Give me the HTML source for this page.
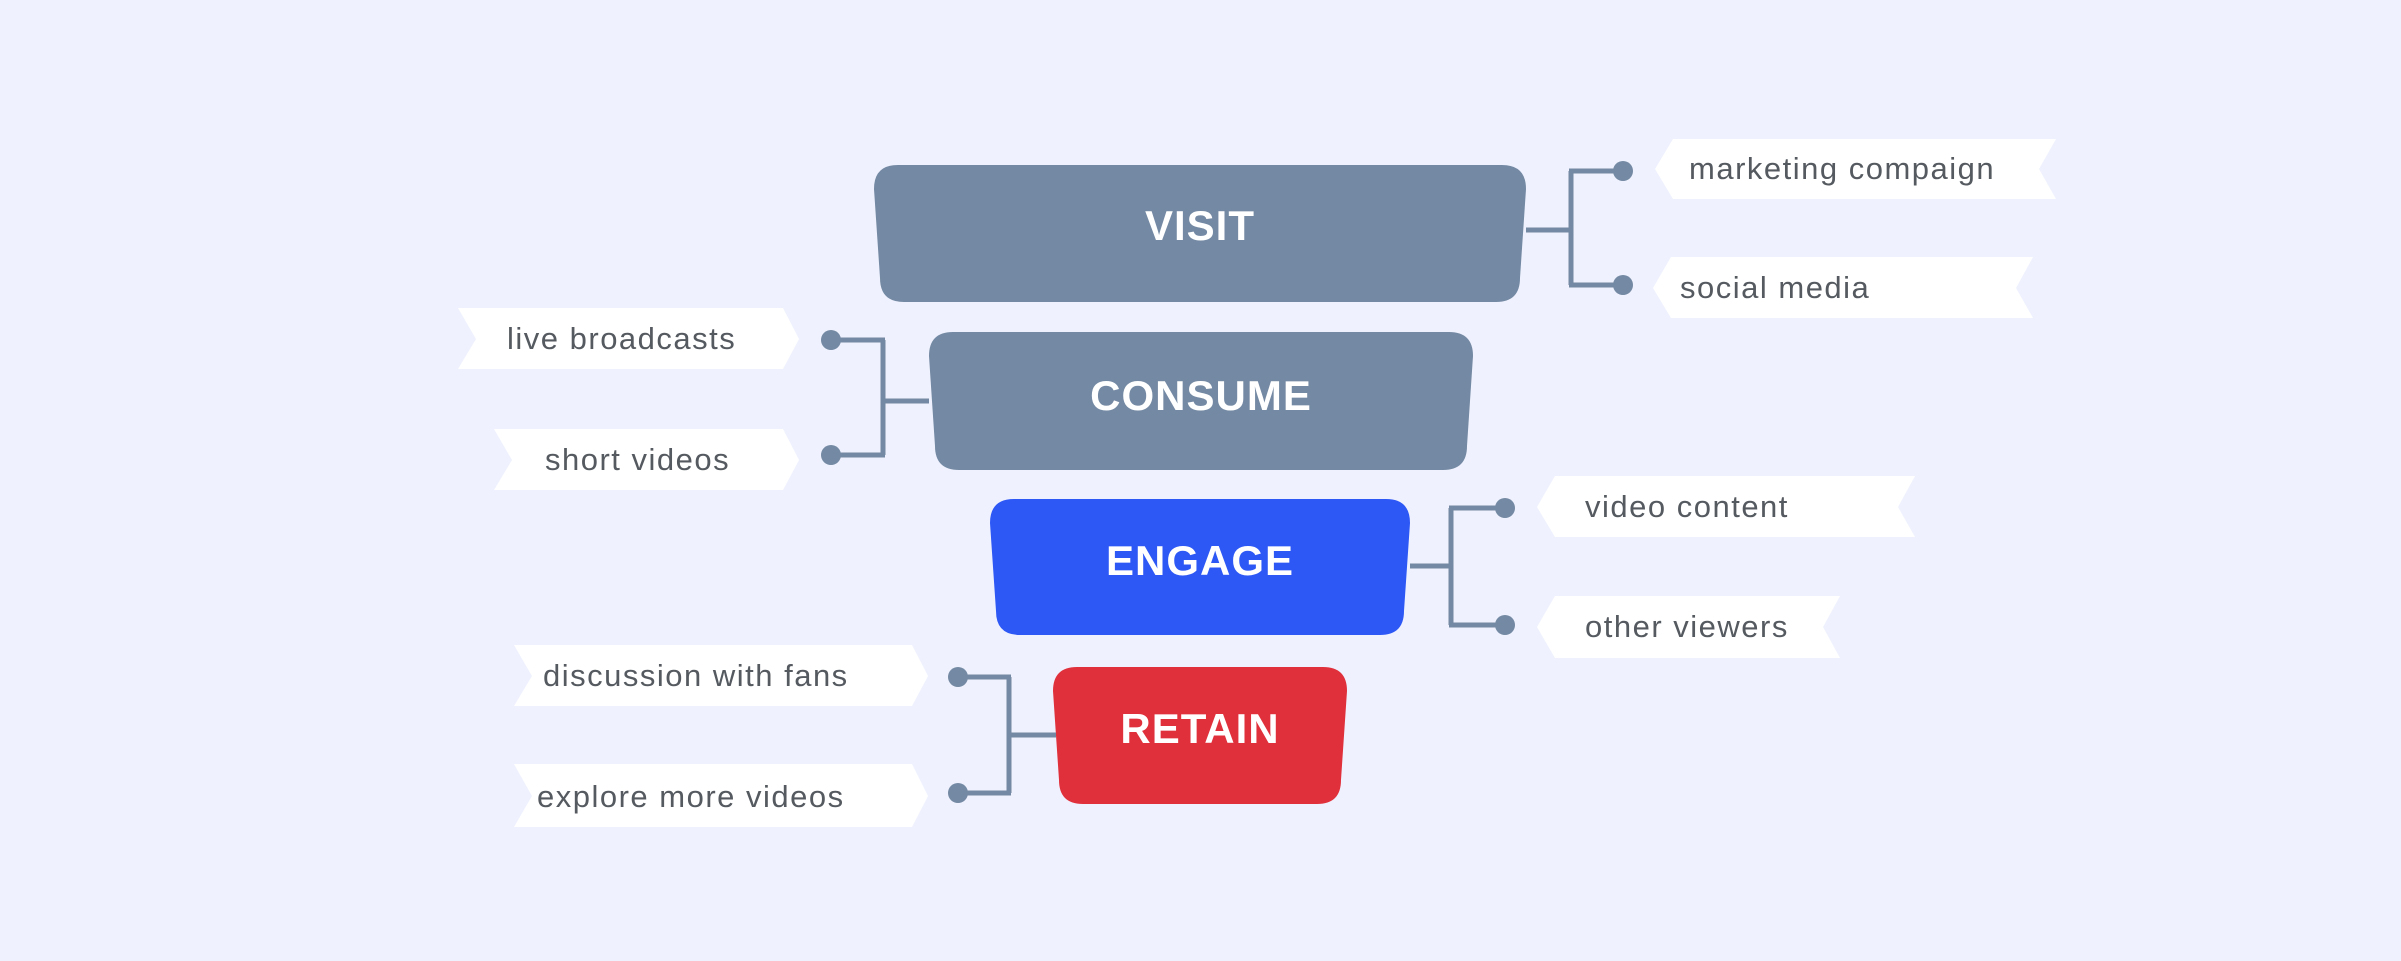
<!DOCTYPE html>
<html><head><meta charset="utf-8"><style>
html,body{margin:0;padding:0;background:#eff2fe;}
svg{display:block}
.t{font-family:"Liberation Sans",sans-serif;font-weight:bold;fill:#fff;font-size:42px;text-anchor:middle;letter-spacing:1px}
.l{font-family:"Liberation Sans",sans-serif;fill:#555a60;font-size:31px;letter-spacing:1.5px}
</style></head><body>
<svg width="2401" height="961" viewBox="0 0 2401 961" xmlns="http://www.w3.org/2000/svg">
<rect x="0" y="0" width="2401" height="961" fill="#eff2fe"/>
<!-- boxes -->
<path d="M898,165 H1502 Q1526,165 1526,189 L1520,278 Q1520,302 1496,302 H904 Q880,302 880,278 L874,189 Q874,165 898,165 Z" fill="#7489a3"/>
<path d="M953,332 H1449 Q1473,332 1473,356 L1467,446 Q1467,470 1443,470 H959 Q935,470 935,446 L929,356 Q929,332 953,332 Z" fill="#7489a3"/>
<path d="M1014,499 H1386 Q1410,499 1410,523 L1404,611 Q1404,635 1380,635 H1020 Q996,635 996,611 L990,523 Q990,499 1014,499 Z" fill="#2d58f5"/>
<path d="M1077,667 H1323 Q1347,667 1347,691 L1341,780 Q1341,804 1317,804 H1083 Q1059,804 1059,780 L1053,691 Q1053,667 1077,667 Z" fill="#e0303b"/>
<text class="t" x="1200" y="240">VISIT</text>
<text class="t" x="1201" y="410">CONSUME</text>
<text class="t" x="1200" y="575">ENGAGE</text>
<text class="t" x="1200" y="743">RETAIN</text>
<!-- connectors -->
<g stroke="#7489a3" stroke-width="5" fill="none">
<path d="M1526,230 H1571 M1571,171 V285 M1569,171 H1621 M1569,285 H1621"/>
<path d="M929,401 H883 M883,340 V455 M885,340 H831 M885,455 H831"/>
<path d="M1410,566 H1451 M1451,508 V625 M1449,508 H1505 M1449,625 H1505"/>
<path d="M1056,735 H1009 M1009,677 V793 M1011,677 H958 M1011,793 H958"/>
</g>
<g fill="#7489a3">
<circle cx="1623" cy="171" r="10"/><circle cx="1623" cy="285" r="10"/>
<circle cx="831" cy="340" r="10"/><circle cx="831" cy="455" r="10"/>
<circle cx="1505" cy="508" r="10"/><circle cx="1505" cy="625" r="10"/>
<circle cx="958" cy="677" r="10"/><circle cx="958" cy="793" r="10"/>
</g>
<!-- tags -->
<g fill="#ffffff">
<polygon points="1673,139 2056,139 2039,169 2056,199 1673,199 1655,169"/>
<polygon points="1671,257 2033,257 2016,288 2033,318 1671,318 1653,288"/>
<polygon points="1555,476 1915,476 1898,507 1915,537 1555,537 1537,507"/>
<polygon points="1555,596 1840,596 1823,627 1840,658 1555,658 1537,627"/>
<polygon points="458,308 783,308 799,339 783,369 458,369 476,339"/>
<polygon points="494,429 783,429 799,460 783,490 494,490 512,460"/>
<polygon points="514,645 912,645 928,676 912,706 514,706 532,676"/>
<polygon points="514,764 912,764 928,796 912,827 514,827 532,796"/>
</g>
<text class="l" x="1689" y="179">marketing compaign</text>
<text class="l" x="1680" y="298">social media</text>
<text class="l" x="1585" y="517">video content</text>
<text class="l" x="1585" y="637">other viewers</text>
<text class="l" x="507" y="349">live broadcasts</text>
<text class="l" x="545" y="470">short videos</text>
<text class="l" x="543" y="686">discussion with fans</text>
<text class="l" x="537" y="807">explore more videos</text>
</svg>
</body></html>
